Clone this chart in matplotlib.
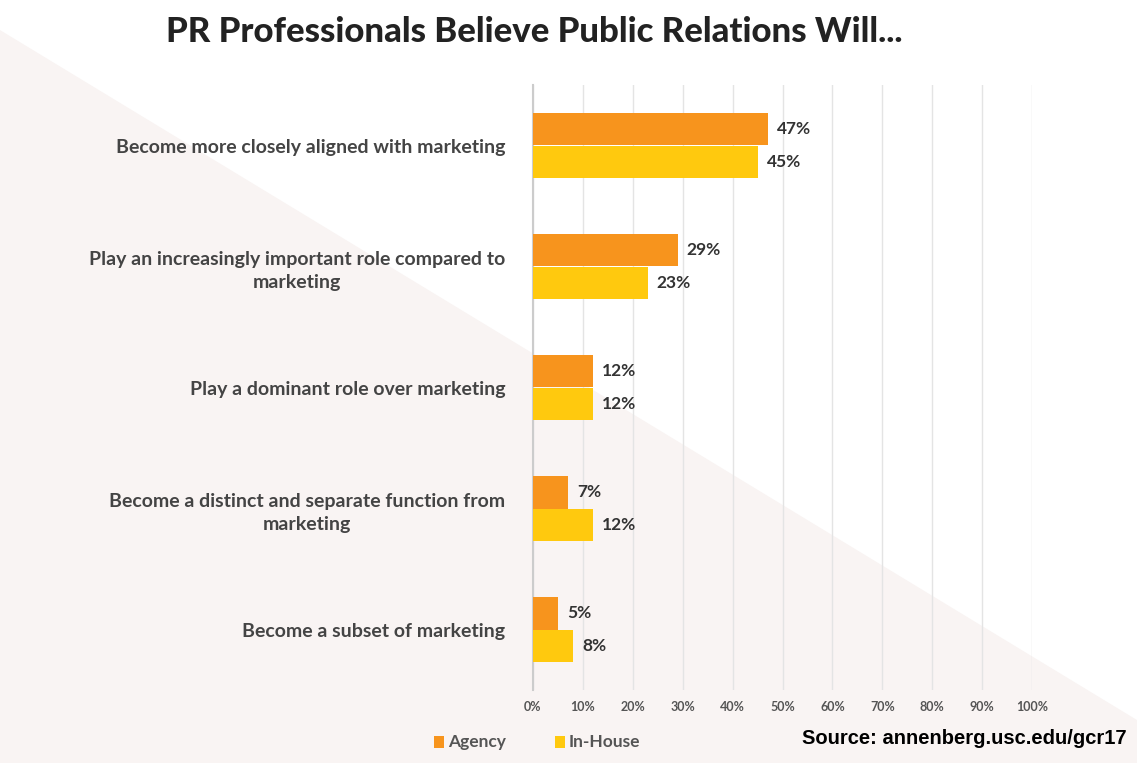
import matplotlib
matplotlib.use("Agg")
import matplotlib.pyplot as plt
from matplotlib.patches import Polygon, Rectangle

categories = ["Become more closely aligned with marketing",
              "Play an increasingly important role compared to\nmarketing",
              "Play a dominant role over marketing",
              "Become a distinct and separate function from\nmarketing",
              "Become a subset of marketing"]
agency = [47, 29, 12, 7, 5]
inhouse = [45, 23, 12, 12, 8]
ticks = list(range(0, 101, 10))

W, H = 1137, 763
fig = plt.figure(figsize=(W/100, H/100), dpi=100)
fig.patch.set_facecolor("white")
fig.patches.append(Polygon([(0, 0), (0, 1-30/H), (1, 1-720/H), (1, 0)],
                           closed=True, transform=fig.transFigure,
                           facecolor="#f9f4f3", edgecolor="none", zorder=-5))

ax = fig.add_axes([533/W, 1-690/H, (1032-533)/W, (690-85)/H])
ax.set_facecolor("none")
ax.set_zorder(2)
c_a, c_i = "#F7941D", "#FFC90E"
h = 0.265
ys = list(range(len(categories)))
ax.barh([y - h/2 for y in ys], agency, height=h, color=c_a, zorder=3)
ax.barh([y + h/2 for y in ys], inhouse, height=h, color=c_i, zorder=3)
for y, a, b in zip(ys, agency, inhouse):
    ax.text(a + 1.8, y - h/2, f"{a}%", va="center", ha="left", fontsize=12.5,
            fontweight="bold", color="#333333", family="Lato")
    ax.text(b + 1.8, y + h/2, f"{b}%", va="center", ha="left", fontsize=12.5,
            fontweight="bold", color="#333333", family="Lato")
ax.set_ylim(4.5, -0.5)
ax.set_xlim(0, 100)
ax.set_xticks(ticks)
ax.set_xticklabels([f"{t}%" for t in ticks], fontsize=9, fontweight="bold",
                   color="#555555", family="Lato")
ax.set_yticks(ys)
ax.set_yticklabels(categories, fontsize=14, fontweight="bold", color="#444444",
                   family="Lato", linespacing=1.45)
for t in ax.get_yticklabels():
    t.set_horizontalalignment("right")
    t.set_multialignment("center")
ax.tick_params(axis="y", length=0, pad=20)
ax.tick_params(axis="x", length=0, pad=8)
ax.grid(axis="x", color="#e4e4e4", linewidth=1, zorder=0)
for s in ["top", "right", "bottom"]:
    ax.spines[s].set_visible(False)
ax.spines["left"].set_color("#cccccc")
ax.spines["left"].set_linewidth(1.5)

fig.text(0.47, 1-32/H, "PR Professionals Believe Public Relations Will...",
         ha="center", va="center", fontsize=25, fontweight="black",
         color="#222222", family="Lato")

# legend
for x0, col, lab in [(434, c_a, "Agency"), (555, c_i, "In-House")]:
    fig.patches.append(Rectangle((x0/W, 1-748/H), 10/W, 12/H, transform=fig.transFigure,
                                 facecolor=col, edgecolor="none"))
    fig.text((x0+14)/W, 1-742/H, lab, ha="left", va="center", fontsize=12.5,
             fontweight="bold", color="#555555", family="Lato")

fig.text(1127/W, 1-739/H, "Source: annenberg.usc.edu/gcr17", ha="right", va="center",
         fontsize=14.5, fontweight="bold", color="black", family="Liberation Sans")

fig.savefig("out.png", dpi=100, facecolor=fig.get_facecolor())
